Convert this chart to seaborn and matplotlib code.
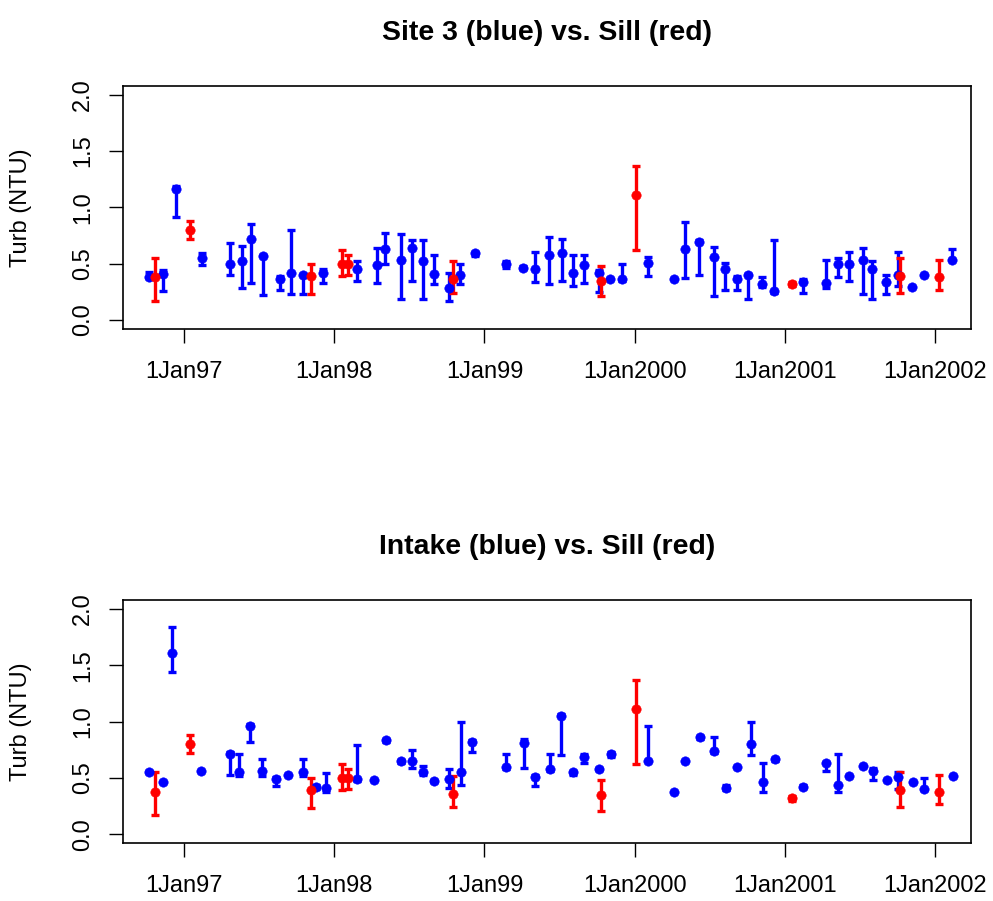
import numpy as np
import pandas as pd
import matplotlib
matplotlib.use("Agg")
import matplotlib.pyplot as plt
import seaborn as sns

# ---------------- data (decimal years, turbidity NTU) ----------------
site3_date = [1996.769, 1996.862, 1996.947, 1997.118, 1997.306, 1997.386, 1997.446, 1997.524,
              1997.637, 1997.712, 1997.790, 1997.923, 1998.153, 1998.282, 1998.339, 1998.442,
              1998.515, 1998.588, 1998.665, 1998.761, 1998.838, 1998.938, 1999.142, 1999.258,
              1999.335, 1999.430, 1999.513, 1999.586, 1999.663, 1999.759, 1999.834, 1999.914,
              2000.089, 2000.260, 2000.333, 2000.428, 2000.526, 2000.601, 2000.681, 2000.754,
              2000.850, 2000.930, 2001.120, 2001.276, 2001.351, 2001.429, 2001.518, 2001.580,
              2001.675, 2001.750, 2001.846, 2001.924, 2002.114]
site3_turb = [0.38, 0.41, 1.16, 0.55, 0.50, 0.52, 0.72, 0.57,
              0.36, 0.42, 0.40, 0.42, 0.45, 0.49, 0.63, 0.53,
              0.64, 0.52, 0.41, 0.28, 0.40, 0.59, 0.50, 0.46,
              0.45, 0.58, 0.59, 0.42, 0.49, 0.42, 0.36, 0.36,
              0.51, 0.36, 0.63, 0.69, 0.56, 0.45, 0.36, 0.40,
              0.32, 0.26, 0.34, 0.33, 0.50, 0.50, 0.53, 0.45,
              0.34, 0.40, 0.29, 0.40, 0.53]
site3_low = [0.37, 0.26, 0.91, 0.49, 0.40, 0.28, 0.33, 0.22,
             0.27, 0.23, 0.23, 0.33, 0.35, 0.33, 0.50, 0.19,
             0.35, 0.19, 0.32, 0.17, 0.32, 0.57, 0.46, 0.45,
             0.34, 0.32, 0.35, 0.30, 0.33, 0.25, 0.36, 0.35,
             0.39, 0.36, 0.37, 0.40, 0.21, 0.27, 0.27, 0.19,
             0.29, 0.24, 0.24, 0.28, 0.38, 0.35, 0.23, 0.19,
             0.23, 0.30, 0.29, 0.40, 0.53]
site3_high = [0.43, 0.44, 1.19, 0.59, 0.68, 0.66, 0.85, 0.58,
              0.39, 0.80, 0.41, 0.45, 0.52, 0.64, 0.77, 0.76,
              0.71, 0.71, 0.58, 0.42, 0.50, 0.60, 0.52, 0.48,
              0.60, 0.74, 0.72, 0.58, 0.58, 0.44, 0.36, 0.50,
              0.56, 0.36, 0.87, 0.71, 0.65, 0.51, 0.39, 0.41,
              0.38, 0.71, 0.36, 0.53, 0.55, 0.60, 0.64, 0.52,
              0.40, 0.60, 0.29, 0.40, 0.63]

intake_date = [1996.769, 1996.862, 1996.922, 1997.115, 1997.306, 1997.368, 1997.439, 1997.521,
               1997.614, 1997.692, 1997.790, 1997.878, 1997.945, 1998.153, 1998.264, 1998.342,
               1998.442, 1998.515, 1998.589, 1998.666, 1998.764, 1998.842, 1998.919, 1999.143,
               1999.263, 1999.338, 1999.436, 1999.511, 1999.591, 1999.664, 1999.760, 1999.840,
               2000.090, 2000.261, 2000.336, 2000.434, 2000.529, 2000.607, 2000.682, 2000.773,
               2000.855, 2000.933, 2001.121, 2001.273, 2001.354, 2001.428, 2001.521, 2001.583,
               2001.681, 2001.752, 2001.854, 2001.927, 2002.120]
intake_turb = [0.55, 0.46, 1.61, 0.56, 0.71, 0.55, 0.96, 0.56,
               0.49, 0.53, 0.55, 0.42, 0.41, 0.49, 0.485, 0.84,
               0.65, 0.65, 0.55, 0.47, 0.49, 0.55, 0.82, 0.60,
               0.81, 0.51, 0.58, 1.05, 0.55, 0.69, 0.58, 0.71,
               0.65, 0.38, 0.65, 0.86, 0.74, 0.41, 0.60, 0.80,
               0.46, 0.665, 0.42, 0.63, 0.44, 0.52, 0.61, 0.56,
               0.48, 0.51, 0.46, 0.40, 0.52]
intake_low = [0.54, 0.46, 1.44, 0.56, 0.53, 0.52, 0.82, 0.52,
              0.43, 0.53, 0.52, 0.40, 0.38, 0.47, 0.485, 0.82,
              0.63, 0.59, 0.53, 0.46, 0.41, 0.44, 0.73, 0.58,
              0.59, 0.43, 0.56, 0.70, 0.53, 0.63, 0.57, 0.69,
              0.65, 0.38, 0.65, 0.85, 0.72, 0.39, 0.60, 0.70,
              0.38, 0.65, 0.41, 0.56, 0.38, 0.52, 0.61, 0.48,
              0.48, 0.40, 0.46, 0.39, 0.52]
intake_high = [0.56, 0.46, 1.84, 0.56, 0.73, 0.71, 0.98, 0.67,
               0.51, 0.53, 0.67, 0.44, 0.54, 0.79, 0.485, 0.85,
               0.66, 0.75, 0.61, 0.48, 0.58, 1.00, 0.84, 0.71,
               0.85, 0.53, 0.71, 1.07, 0.56, 0.71, 0.59, 0.73,
               0.96, 0.38, 0.65, 0.87, 0.86, 0.44, 0.60, 1.00,
               0.63, 0.68, 0.44, 0.64, 0.71, 0.52, 0.61, 0.59,
               0.48, 0.55, 0.46, 0.50, 0.52]

sill_date = [1996.805, 1997.042, 1997.845, 1998.053, 1998.091, 1998.788, 1999.776,
             2000.007, 2001.050, 2001.769, 2002.023]
sill_turb = [0.38, 0.80, 0.39, 0.50, 0.50, 0.36, 0.35, 1.11, 0.32, 0.39, 0.38]
sill_low = [0.17, 0.72, 0.23, 0.39, 0.40, 0.24, 0.21, 0.62, 0.30, 0.24, 0.27]
sill_high = [0.55, 0.88, 0.50, 0.62, 0.58, 0.52, 0.48, 1.37, 0.34, 0.55, 0.53]

year_ticks = [1997, 1998, 1999, 2000, 2001, 2002]
year_labels = ["1Jan97", "1Jan98", "1Jan99", "1Jan2000", "1Jan2001", "1Jan2002"]
y_ticks = [0.0, 0.5, 1.0, 1.5, 2.0]
y_labels = ["0.0", "0.5", "1.0", "1.5", "2.0"]

titles = ["Site 3 (blue) vs. Sill (red)", "Intake (blue) vs. Sill (red)"]

# ---------------- style ----------------
sns.set_style("ticks")
plt.rcParams['font.family'] = ['Liberation Sans', 'DejaVu Sans']
plt.rcParams['text.color'] = 'black'
plt.rcParams['axes.labelcolor'] = 'black'
plt.rcParams['xtick.color'] = 'black'
plt.rcParams['ytick.color'] = 'black'

BLUE = "#0000FF"
RED = "#FF0000"

fig = plt.figure(figsize=(9.93, 9.01), dpi=100)
ax1 = fig.add_axes([0.1242, 0.6349, 0.8533, 0.2700])
ax2 = fig.add_axes([0.1242, 0.0640, 0.8533, 0.2701])

sill = pd.DataFrame(dict(date=sill_date, turb=sill_turb, lo=sill_low, hi=sill_high))
site3 = pd.DataFrame(dict(date=site3_date, turb=site3_turb, lo=site3_low, hi=site3_high))
intake = pd.DataFrame(dict(date=intake_date, turb=intake_turb, lo=intake_low, hi=intake_high))


def panel(ax, title, blue):
    for df, col in [(blue, BLUE), (sill, RED)]:
        yerr = np.vstack([df.turb - df.lo, df.hi - df.turb])
        ax.errorbar(df.date, df.turb, yerr=yerr, fmt='none', ecolor=col,
                    elinewidth=2.4, capsize=3.0, capthick=2.4, zorder=2)
        sns.scatterplot(data=df, x='date', y='turb', color=col, s=46,
                        edgecolor=col, linewidth=0.4, ax=ax, zorder=3, legend=False)
    ax.set_xlim(1996.596, 2002.236)
    ax.set_ylim(-0.08, 2.08)
    ax.set_xticks(year_ticks)
    ax.set_xticklabels(year_labels)
    ax.set_yticks(y_ticks)
    ax.set_yticklabels(y_labels, rotation=90, va='center')
    ax.tick_params(axis='both', direction='out', length=10, width=1.0,
                   labelsize=17, color='black', labelcolor='black')
    ax.tick_params(axis='x', pad=13)
    ax.tick_params(axis='y', pad=11)
    ax.set_xlabel("")
    ax.set_ylabel("Turb (NTU)", fontsize=17, color='black')
    ax.yaxis.set_label_coords(-0.108, 0.5)
    ax.set_title(title, fontsize=20.4, fontweight='bold', pad=33, color='black')
    for sp in ax.spines.values():
        sp.set_visible(True)
        sp.set_color('black')
        sp.set_linewidth(1.2)


panel(ax1, titles[0], site3)
panel(ax2, titles[1], intake)

fig.savefig("out.png", dpi=100)
